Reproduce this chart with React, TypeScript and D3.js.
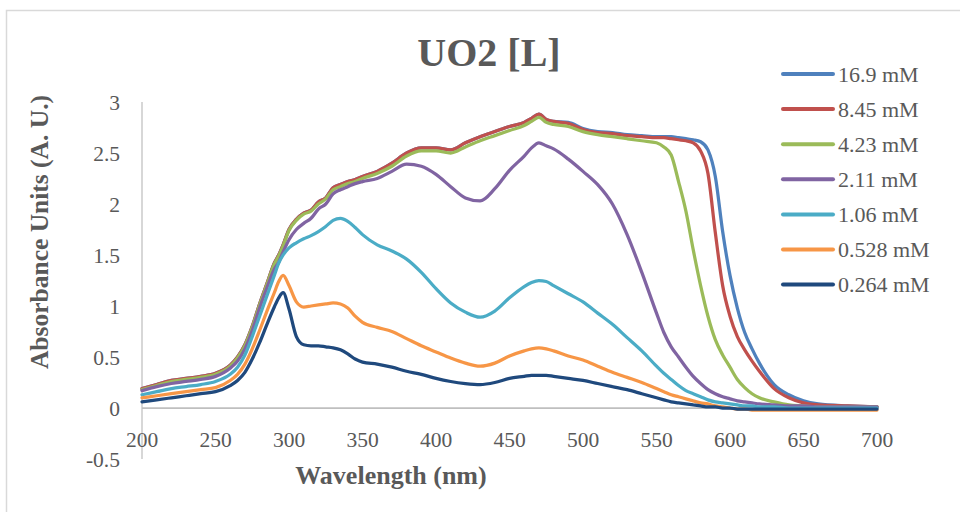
import React from 'react';
import * as d3 from 'd3';

const wavelengths = [
  200, 210, 220, 230, 240, 250, 260,
  265, 270, 275, 280, 285, 290,
  293, 296, 300,
  305, 310, 315, 320, 325, 330, 335, 340, 345, 350,
  360, 370, 380, 390, 400, 410, 420, 430, 440, 450, 460,
  465, 470, 475, 480,
  490, 500, 510, 520, 530, 540, 550,
  555, 560, 565, 570, 575, 580, 585, 590, 595, 600, 605, 610, 615, 620,
  630, 640, 650, 660, 680, 700,
];

const abs169 = [
  0.19, 0.23, 0.27, 0.29, 0.31, 0.34, 0.42,
  0.50, 0.62, 0.80, 1.02, 1.22, 1.42,
  1.50, 1.60, 1.75,
  1.85, 1.91, 1.94, 2.02, 2.06, 2.16, 2.19, 2.22, 2.24, 2.27,
  2.32, 2.40, 2.50, 2.55, 2.55, 2.53, 2.60, 2.66, 2.71, 2.76, 2.80,
  2.84, 2.88, 2.83, 2.81,
  2.80, 2.74, 2.71, 2.70, 2.68, 2.67, 2.66,
  2.66, 2.66, 2.65, 2.64, 2.63, 2.61, 2.53, 2.27, 1.73, 1.30, 0.98, 0.74, 0.58, 0.44,
  0.23, 0.13, 0.07, 0.04, 0.02, 0.01,
];

const abs845 = [
  0.19, 0.23, 0.27, 0.29, 0.31, 0.34, 0.42,
  0.50, 0.62, 0.80, 1.02, 1.22, 1.42,
  1.50, 1.60, 1.75,
  1.85, 1.91, 1.94, 2.02, 2.06, 2.16, 2.19, 2.22, 2.24, 2.27,
  2.32, 2.40, 2.50, 2.55, 2.55, 2.53, 2.60, 2.66, 2.71, 2.76, 2.80,
  2.84, 2.88, 2.83, 2.81,
  2.79, 2.73, 2.70, 2.69, 2.67, 2.66, 2.65,
  2.65, 2.64, 2.63, 2.62, 2.60, 2.52, 2.30, 1.72, 1.20, 0.90, 0.70, 0.57, 0.46, 0.36,
  0.19, 0.10, 0.05, 0.03, 0.02, 0.01,
];

const abs423 = [
  0.18, 0.22, 0.26, 0.28, 0.30, 0.33, 0.41,
  0.49, 0.61, 0.79, 1.01, 1.21, 1.41,
  1.49, 1.59, 1.74,
  1.84, 1.90, 1.93, 2.00, 2.05, 2.14, 2.17, 2.20, 2.22, 2.25,
  2.30, 2.37, 2.47, 2.52, 2.52, 2.50, 2.56, 2.62, 2.67, 2.72, 2.77,
  2.81, 2.85, 2.80, 2.78,
  2.76, 2.71, 2.68, 2.66, 2.64, 2.62, 2.60,
  2.56, 2.48, 2.22, 1.93, 1.55, 1.20, 0.90, 0.67, 0.52, 0.40, 0.28, 0.20, 0.14, 0.10,
  0.06, 0.03, 0.02, 0.01, 0.01, 0.01,
];

const abs211 = [
  0.17, 0.21, 0.24, 0.26, 0.28, 0.31, 0.39,
  0.46, 0.58, 0.76, 0.98, 1.18, 1.36,
  1.43, 1.53, 1.65,
  1.75, 1.81, 1.86, 1.95, 2.00, 2.10, 2.14, 2.17, 2.20, 2.22,
  2.25, 2.32, 2.39, 2.37, 2.29, 2.17, 2.06, 2.03, 2.15, 2.33, 2.47,
  2.55, 2.60, 2.57, 2.54,
  2.44, 2.32, 2.19, 2.00, 1.70, 1.33, 0.93,
  0.74, 0.60, 0.50, 0.40, 0.31, 0.24, 0.18, 0.14, 0.11, 0.09, 0.07, 0.06, 0.05, 0.04,
  0.03, 0.02, 0.02, 0.01, 0.01, 0.01,
];

const abs106 = [
  0.13, 0.16, 0.19, 0.21, 0.23, 0.26, 0.33,
  0.40, 0.52, 0.70, 0.90, 1.10, 1.30,
  1.42, 1.50, 1.57,
  1.62, 1.66, 1.69, 1.73, 1.78, 1.84, 1.86, 1.83, 1.77, 1.70,
  1.60, 1.54, 1.46, 1.33, 1.17, 1.03, 0.94, 0.89, 0.95, 1.08, 1.19,
  1.23, 1.25, 1.24, 1.20,
  1.12, 1.04, 0.93, 0.82, 0.69, 0.56, 0.41,
  0.34, 0.28, 0.22, 0.17, 0.14, 0.11, 0.08, 0.06, 0.05, 0.04, 0.03, 0.02, 0.02, 0.01,
  0.01, 0.00, 0.00, 0.00, 0.00, 0.00,
];

const abs0528 = [
  0.10, 0.12, 0.14, 0.16, 0.18, 0.20, 0.27,
  0.33, 0.43, 0.58, 0.76, 0.95, 1.13,
  1.24, 1.30, 1.20,
  1.04, 0.99, 1.00, 1.01, 1.02, 1.03, 1.02, 0.98, 0.90, 0.84,
  0.79, 0.75, 0.68, 0.61, 0.55, 0.49, 0.44, 0.41, 0.44, 0.51, 0.56,
  0.58, 0.59, 0.58, 0.56,
  0.51, 0.47, 0.41, 0.35, 0.30, 0.25, 0.19,
  0.16, 0.13, 0.11, 0.09, 0.07, 0.05, 0.04, 0.02, 0.01, 0.00, -0.01, -0.01, -0.02, -0.02,
  -0.02, -0.02, -0.02, -0.02, -0.02, -0.02,
];

const abs0264 = [
  0.06, 0.08, 0.10, 0.12, 0.14, 0.16, 0.22,
  0.27, 0.35, 0.48, 0.64, 0.82, 0.99,
  1.08, 1.13, 0.97,
  0.70, 0.62, 0.61, 0.61, 0.60, 0.59, 0.57, 0.53, 0.48, 0.45,
  0.43, 0.40, 0.36, 0.33, 0.29, 0.26, 0.24, 0.23, 0.25, 0.29, 0.31,
  0.32, 0.32, 0.32, 0.31,
  0.29, 0.27, 0.24, 0.21, 0.18, 0.14, 0.10,
  0.08, 0.06, 0.05, 0.04, 0.03, 0.02, 0.01, 0.01, 0.00, 0.00, -0.01, -0.01, -0.01, -0.01,
  -0.01, -0.01, -0.01, -0.01, -0.01, -0.01,
];

const seriesLabels = ['16.9 mM', '8.45 mM', '4.23 mM', '2.11 mM', '1.06 mM', '0.528 mM', '0.264 mM'];
const seriesValues = [abs169, abs845, abs423, abs211, abs106, abs0528, abs0264];
const seriesColors = ['#4F81BD', '#C0504D', '#9BBB59', '#8064A2', '#4BACC6', '#F79646', '#1F497D'];

const xTicks = [200, 250, 300, 350, 400, 450, 500, 550, 600, 650, 700];
const yTicks = [-0.5, 0, 0.5, 1, 1.5, 2, 2.5, 3];

const chartTitle = 'UO2 [L]';
const xTitle = 'Wavelength (nm)';
const yTitle = 'Absorbance Units (A. U.)';

const FONT = '"Times New Roman", "Liberation Serif", Times, serif';
const TEXT = '#595959';

export default function App() {
  const width = 960;
  const height = 512;
  const x = d3.scaleLinear().domain([200, 700]).range([142, 877]);
  const y = d3.scaleLinear().domain([-0.5, 3]).range([459, 102]);

  const line = d3
    .line<[number, number]>()
    .x((d) => x(d[0]))
    .y((d) => y(d[1]))
    .curve(d3.curveMonotoneX);

  const legendX = 783;
  const legendY0 = 74;
  const legendStep = 35.1;

  return (
    <svg
      width={width}
      height={height}
      style={{ position: 'absolute', left: 0, top: 0, background: '#fff' }}
      fontFamily={FONT}
    >
      <rect x={0} y={0} width={width} height={height} fill="#fff" />
      <rect x={6.5} y={10.5} width={1000} height={600} fill="none" stroke="#D9D9D9" strokeWidth={1.5} />

      {/* title */}
      <text x={489} y={66} textAnchor="middle" fontSize={40} fontWeight="bold" fill={TEXT}>
        {chartTitle}
      </text>

      {/* axes */}
      <line x1={x(200)} x2={x(200)} y1={y(3)} y2={y(-0.5)} stroke="#BFBFBF" strokeWidth={1.25} />
      <line x1={x(200)} x2={x(700)} y1={y(0)} y2={y(0)} stroke="#BFBFBF" strokeWidth={1.75} />

      {/* y tick labels */}
      {yTicks.map((t) => (
        <text key={t} x={120} y={y(t)} dy="0.35em" textAnchor="end" fontSize={21.5} fill={TEXT}>
          {t}
        </text>
      ))}

      {/* x tick labels */}
      {xTicks.map((t) => (
        <text key={t} x={x(t)} y={447} textAnchor="middle" fontSize={21.5} fill={TEXT}>
          {t}
        </text>
      ))}

      {/* axis titles */}
      <text x={391} y={484} textAnchor="middle" fontSize={26} fontWeight="bold" fill={TEXT}>
        {xTitle}
      </text>
      <text
        transform={`translate(39, 232) rotate(-90)`}
        textAnchor="middle"
        dy="0.35em"
        fontSize={25.5}
        fontWeight="bold"
        fill={TEXT}
      >
        {yTitle}
      </text>

      {/* series */}
      {seriesValues.map((vals, i) => {
        const pts = wavelengths.map((w, j) => [w, vals[j]] as [number, number]);
        return (
          <path
            key={seriesLabels[i]}
            d={line(pts) || ''}
            fill="none"
            stroke={seriesColors[i]}
            strokeWidth={3.25}
            strokeLinejoin="round"
            strokeLinecap="round"
          />
        );
      })}

      {/* legend */}
      {seriesLabels.map((lab, i) => {
        const ly = legendY0 + i * legendStep;
        return (
          <g key={lab}>
            <line x1={legendX} x2={legendX + 50} y1={ly} y2={ly} stroke={seriesColors[i]} strokeWidth={4} strokeLinecap="round" />
            <text x={legendX + 55} y={ly} dy="0.35em" fontSize={22} fill={TEXT}>
              {lab}
            </text>
          </g>
        );
      })}
    </svg>
  );
}
